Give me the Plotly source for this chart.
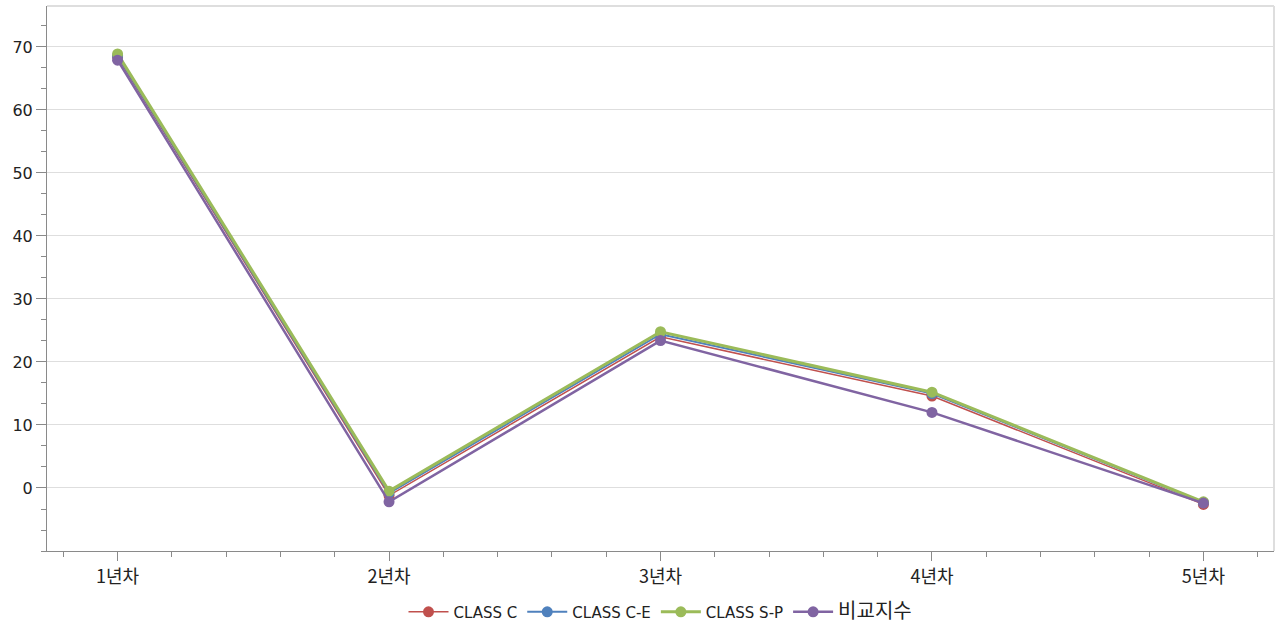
import plotly.graph_objects as go

categories = ["1년차", "2년차", "3년차", "4년차", "5년차"]
class_c = [68.4, -1.2, 24.0, 14.6, -2.6]
class_ce = [68.6, -0.8, 24.4, 15.0, -2.3]
class_sp = [68.9, -0.5, 24.8, 15.2, -2.2]
index_cmp = [67.9, -2.2, 23.4, 12.0, -2.4]
y_ticks = [0, 10, 20, 30, 40, 50, 60, 70]

series = [
    ("CLASS C", class_c, "#C0504D", 1.5),
    ("CLASS C-E", class_ce, "#4F81BD", 2),
    ("CLASS S-P", class_sp, "#9BBB59", 3),
    ("<span style='font-size:20px'>비교지수</span>", index_cmp, "#8064A2", 2.5),
]

xpos = list(range(len(categories)))
fig = go.Figure()
for name, vals, color, w in series:
    fig.add_trace(go.Scatter(
        x=xpos, y=vals, name=name, mode="lines+markers",
        line=dict(color=color, width=w),
        marker=dict(color=color, size=11),
    ))

font_main = "Tahoma, 'DejaVu Sans', 'Noto Sans CJK KR', sans-serif"
fig.update_layout(
    width=1276, height=628,
    margin=dict(l=47, r=2, t=6, b=77, autoexpand=False),
    paper_bgcolor="white", plot_bgcolor="white",
    font=dict(family=font_main, size=13, color="#222222"),
    showlegend=True,
    legend=dict(orientation="h", x=0.5, xanchor="center", y=-0.112, yanchor="middle",
                font=dict(size=15, family="'DejaVu Sans', 'Noto Sans CJK KR', sans-serif"),
                itemwidth=40, tracegroupgap=0),
    xaxis=dict(
        range=[-0.26, 4.26], tickmode="array", tickvals=xpos, ticktext=categories,
        showgrid=False, zeroline=False, automargin=False,
        showline=True, linecolor="#8a8a8a", linewidth=1, mirror=False,
        ticks="outside", ticklen=9, tickcolor="#8a8a8a",
        tickfont=dict(size=18, family="'Noto Sans CJK KR', sans-serif"),
        minor=dict(dtick=0.2, tick0=0, ticks="outside", ticklen=5, tickcolor="#8a8a8a", showgrid=False),
    ),
    yaxis=dict(
        range=[-10, 76.5], tickmode="array", tickvals=y_ticks,
        showgrid=True, gridcolor="#dedede", gridwidth=1, zeroline=False, automargin=False,
        showline=True, linecolor="#8a8a8a", linewidth=1,
        ticks="outside", ticklen=10, tickcolor="#8a8a8a",
        tickfont=dict(size=16),
        minor=dict(dtick=10/3, tick0=0, ticks="outside", ticklen=5, tickcolor="#8a8a8a", showgrid=False),
    ),
)
# light frame on top and right
fig.add_shape(type="line", xref="paper", yref="paper", x0=0, x1=1, y0=1, y1=1,
              line=dict(color="#dedede", width=2))
fig.add_shape(type="line", xref="paper", yref="paper", x0=1, x1=1, y0=0, y1=1,
              line=dict(color="#dedede", width=2))

fig.write_html("out.html", config={"displayModeBar": False},
               post_script="document.body.style.margin='0';document.body.style.overflow='hidden';")
